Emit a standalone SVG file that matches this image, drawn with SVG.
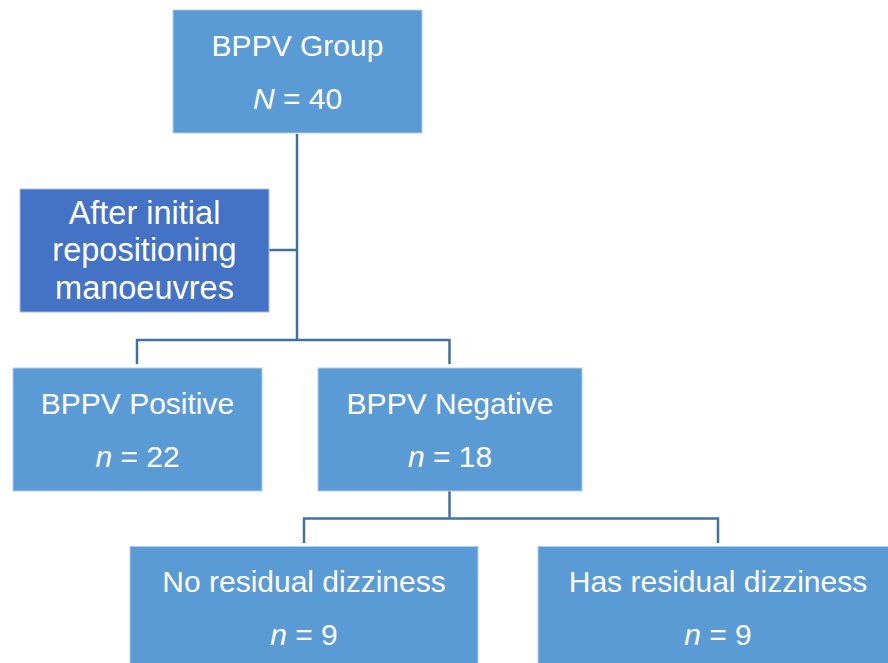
<svg xmlns="http://www.w3.org/2000/svg" width="888" height="663" viewBox="0 0 888 663">
<style>
.box{fill:#5B9BD5;stroke:#B4CDE8;stroke-width:1}
.dark{fill:#4472C4;stroke:#A9BCE3;stroke-width:1}
.t{font-family:"Liberation Sans",Arial,sans-serif;font-size:30px;fill:#FFFFFF;text-anchor:middle}
.s{font-size:32.5px}
.c{fill:none;stroke:#41719C;stroke-width:2.5}
</style>
<rect width="888" height="663" fill="#FFFFFF"/>
<g id="connectors">
<path class="c" d="M297,134 V340"/>
<path class="c" d="M269,250 H297"/>
<path class="c" d="M137,364 V340 H449.5 V364"/>
<path class="c" d="M449.5,491 V518.5"/>
<path class="c" d="M304,543 V518.5 H718 V543"/>
</g>
<g id="group">
<rect class="box" x="173" y="10" width="249" height="123"/>
<text class="t" x="297.5" y="56">BPPV Group</text>
<text class="t" x="297.5" y="109"><tspan font-style="italic">N</tspan> = 40</text>
</g>
<g id="after">
<rect class="dark" x="20" y="189" width="249" height="123"/>
<text class="t s" x="144.5" y="224">After initial</text>
<text class="t s" x="144.5" y="261">repositioning</text>
<text class="t s" x="144.5" y="299">manoeuvres</text>
</g>
<g id="positive">
<rect class="box" x="13" y="368" width="249" height="123"/>
<text class="t" x="137.5" y="414">BPPV Positive</text>
<text class="t" x="137.5" y="467"><tspan font-style="italic">n</tspan> = 22</text>
</g>
<g id="negative">
<rect class="box" x="318" y="368" width="264" height="123"/>
<text class="t" x="450" y="414">BPPV Negative</text>
<text class="t" x="450" y="467"><tspan font-style="italic">n</tspan> = 18</text>
</g>
<g id="noresidual">
<rect class="box" x="130" y="546.5" width="348" height="123"/>
<text class="t" x="304" y="592">No residual dizziness</text>
<text class="t" x="304" y="645"><tspan font-style="italic">n</tspan> = 9</text>
</g>
<g id="hasresidual">
<rect class="box" x="538" y="546.5" width="360" height="123"/>
<text class="t" x="718" y="592">Has residual dizziness</text>
<text class="t" x="718" y="645"><tspan font-style="italic">n</tspan> = 9</text>
</g>
</svg>
